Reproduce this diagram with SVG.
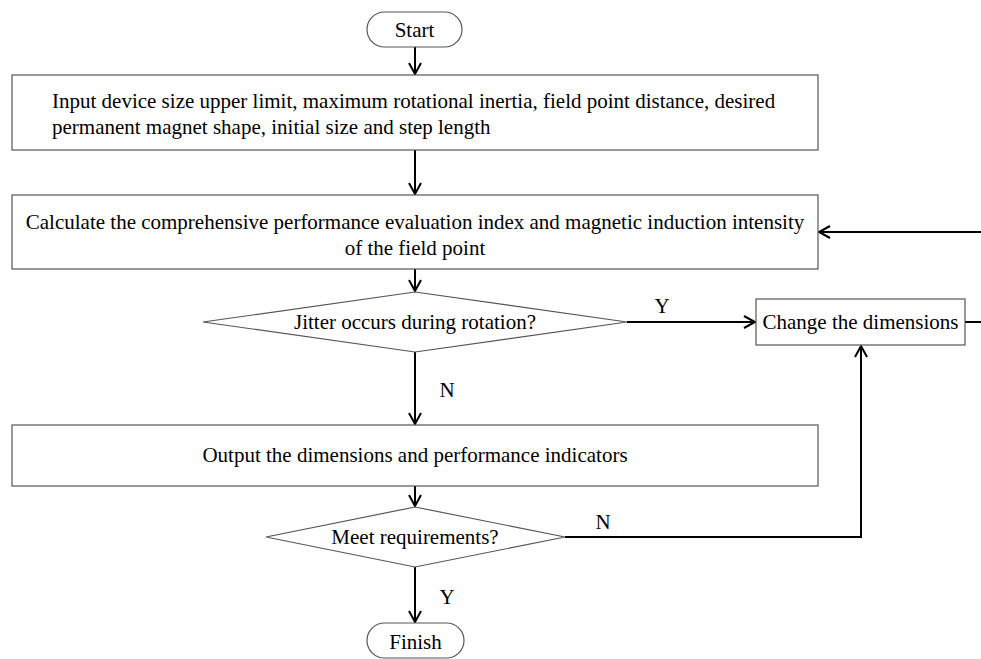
<svg xmlns="http://www.w3.org/2000/svg" width="981" height="659" viewBox="0 0 981 659">
<style>
.box{fill:#fff;stroke:#555;stroke-width:1.2}
.t{font-family:"Liberation Serif","Times New Roman",serif;font-size:21px;fill:#000}
.c{text-anchor:middle}
.ln{fill:none;stroke:#000;stroke-width:2}
</style>
<defs>
<marker id="ah" markerWidth="14" markerHeight="14" refX="12" refY="7" orient="auto" markerUnits="userSpaceOnUse">
<path d="M1,1 L12,7 L1,13" fill="none" stroke="#000" stroke-width="2"/>
</marker>
</defs>
<g id="connectors">
<line class="ln" x1="415" y1="47" x2="415" y2="74" marker-end="url(#ah)"/>
<line class="ln" x1="415" y1="150" x2="415" y2="194" marker-end="url(#ah)"/>
<line class="ln" x1="415" y1="269" x2="415" y2="291" marker-end="url(#ah)"/>
<line class="ln" x1="415" y1="352" x2="415" y2="424" marker-end="url(#ah)"/>
<line class="ln" x1="627" y1="322" x2="755" y2="322" marker-end="url(#ah)"/>
<line class="ln" x1="965" y1="322" x2="981" y2="322"/>
<line class="ln" x1="981" y1="232" x2="819" y2="232" marker-end="url(#ah)"/>
<line class="ln" x1="415" y1="486" x2="415" y2="506" marker-end="url(#ah)"/>
<polyline class="ln" points="565,537 861,537 861,346" marker-end="url(#ah)"/>
<line class="ln" x1="415" y1="567" x2="415" y2="622" marker-end="url(#ah)"/>
<text class="t c" x="447" y="397">N</text>
<text class="t c" x="662" y="313">Y</text>
<text class="t c" x="603" y="529">N</text>
<text class="t c" x="447" y="604">Y</text>
</g>
<g id="start">
<rect class="box" x="367" y="12" width="95" height="35" rx="17.5"/>
<text class="t c" x="414.5" y="37">Start</text>
</g>
<g id="input">
<rect class="box" x="12" y="75" width="806" height="75"/>
<text class="t" x="52" y="108">Input device size upper limit, maximum rotational inertia, field point distance, desired</text>
<text class="t" x="52" y="134">permanent magnet shape, initial size and step length</text>
</g>
<g id="calculate">
<rect class="box" x="12" y="195" width="806" height="74"/>
<text class="t c" x="415" y="229">Calculate the comprehensive performance evaluation index and magnetic induction intensity</text>
<text class="t c" x="415" y="255">of the field point</text>
</g>
<g id="jitter">
<polygon class="box" points="203,322 415,292 627,322 415,352"/>
<text class="t c" x="415" y="329">Jitter occurs during rotation?</text>
</g>
<g id="change">
<rect class="box" x="756" y="299" width="209" height="46"/>
<text class="t c" x="860.5" y="329">Change the dimensions</text>
</g>
<g id="output">
<rect class="box" x="12" y="425" width="806" height="61"/>
<text class="t c" x="415" y="462">Output the dimensions and performance indicators</text>
</g>
<g id="meet">
<polygon class="box" points="266,537 415,507 565,537 415,567"/>
<text class="t c" x="415" y="544">Meet requirements?</text>
</g>
<g id="finish">
<rect class="box" x="367" y="623" width="97" height="35" rx="17.5"/>
<text class="t c" x="415.5" y="649">Finish</text>
</g>
</svg>
